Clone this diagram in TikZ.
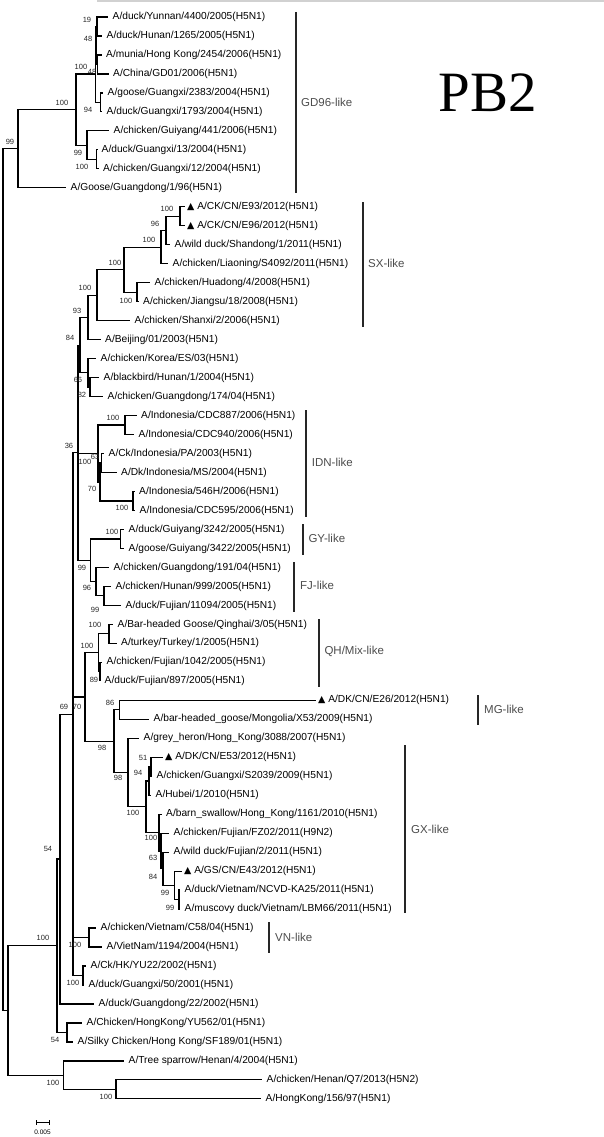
\documentclass[tikz,border=0pt]{standalone}
\usepackage{fontspec}
\setmainfont{Liberation Sans}
\newfontfamily\titlefont{Liberation Serif}
\newfontfamily\symbfont{DejaVu Sans}
\newcommand{\tri}{{\symbfont\fontsize{9.5}{10}\selectfont ▲}}

\begin{document}
\begin{tikzpicture}[x=1pt, y=-1pt,
    every edge/.style={draw, line width=1.2pt, to path={|- (\tikztotarget)}},
    leaf/.style={anchor=west, inner xsep=4.5pt, inner ysep=1pt, font=\fontsize{10.2}{12}\selectfont},
    tleaf/.style={leaf, inner xsep=2pt},
    bs/.style={inner sep=0pt, font=\fontsize{7.5}{9}\selectfont, text=black!85},
    clade/.style={anchor=west, inner sep=0pt, font=\fontsize{11.5}{13}\selectfont, text=black!70},
    bracket/.style={line width=1.7pt, black!85}]
        \useasboundingbox (0,0) rectangle (604,1137);

        % leaves
        \node[leaf] (l1) at (108,17.00) {A/duck/Yunnan/4400/2005(H5N1)};
        \node[leaf] (l2) at (102,35.98) {A/duck/Hunan/1265/2005(H5N1)};
        \node[leaf] (l3) at (101.5,54.96) {A/munia/Hong Kong/2454/2006(H5N1)};
        \node[leaf] (l4) at (108.5,73.94) {A/China/GD01/2006(H5N1)};
        \node[leaf] (l5) at (103,92.92) {A/goose/Guangxi/2383/2004(H5N1)};
        \node[leaf] (l6) at (102,111.90) {A/duck/Guangxi/1793/2004(H5N1)};
        \node[leaf] (l7) at (109,130.88) {A/chicken/Guiyang/441/2006(H5N1)};
        \node[leaf] (l8) at (97,149.86) {A/duck/Guangxi/13/2004(H5N1)};
        \node[leaf] (l9) at (98.5,168.84) {A/chicken/Guangxi/12/2004(H5N1)};
        \node[leaf] (l10) at (66,187.82) {A/Goose/Guangdong/1/96(H5N1)};
        \node[tleaf] (l11) at (185,206.80) {\tri\ A/CK/CN/E93/2012(H5N1)};
        \node[tleaf] (l12) at (185,225.78) {\tri\ A/CK/CN/E96/2012(H5N1)};
        \node[leaf] (l13) at (170,244.76) {A/wild duck/Shandong/1/2011(H5N1)};
        \node[leaf] (l14) at (168,263.74) {A/chicken/Liaoning/S4092/2011(H5N1)};
        \node[leaf] (l15) at (150,282.72) {A/chicken/Huadong/4/2008(H5N1)};
        \node[leaf] (l16) at (138.5,301.70) {A/chicken/Jiangsu/18/2008(H5N1)};
        \node[leaf] (l17) at (130,320.68) {A/chicken/Shanxi/2/2006(H5N1)};
        \node[leaf] (l18) at (100.5,339.66) {A/Beijing/01/2003(H5N1)};
        \node[leaf] (l19) at (96,358.64) {A/chicken/Korea/ES/03(H5N1)};
        \node[leaf] (l20) at (99,377.62) {A/blackbird/Hunan/1/2004(H5N1)};
        \node[leaf] (l21) at (103,396.60) {A/chicken/Guangdong/174/04(H5N1)};
        \node[leaf] (l22) at (136.5,415.58) {A/Indonesia/CDC887/2006(H5N1)};
        \node[leaf] (l23) at (134,434.56) {A/Indonesia/CDC940/2006(H5N1)};
        \node[leaf] (l24) at (104,453.54) {A/Ck/Indonesia/PA/2003(H5N1)};
        \node[leaf] (l25) at (116.5,472.52) {A/Dk/Indonesia/MS/2004(H5N1)};
        \node[leaf] (l26) at (134.5,491.50) {A/Indonesia/546H/2006(H5N1)};
        \node[leaf] (l27) at (135,510.48) {A/Indonesia/CDC595/2006(H5N1)};
        \node[leaf] (l28) at (124,529.46) {A/duck/Guiyang/3242/2005(H5N1)};
        \node[leaf] (l29) at (124,548.44) {A/goose/Guiyang/3422/2005(H5N1)};
        \node[leaf] (l30) at (109,567.42) {A/chicken/Guangdong/191/04(H5N1)};
        \node[leaf] (l31) at (111,586.40) {A/chicken/Hunan/999/2005(H5N1)};
        \node[leaf] (l32) at (121,605.38) {A/duck/Fujian/11094/2005(H5N1)};
        \node[leaf] (l33) at (113,624.36) {A/Bar-headed Goose/Qinghai/3/05(H5N1)};
        \node[leaf] (l34) at (116.5,643.34) {A/turkey/Turkey/1/2005(H5N1)};
        \node[leaf] (l35) at (102,662.32) {A/chicken/Fujian/1042/2005(H5N1)};
        \node[leaf] (l36) at (100,681.30) {A/duck/Fujian/897/2005(H5N1)};
        \node[tleaf] (l37) at (316,700.28) {\tri\ A/DK/CN/E26/2012(H5N1)};
        \node[leaf] (l38) at (149,719.26) {A/bar-headed\_goose/Mongolia/X53/2009(H5N1)};
        \node[leaf] (l39) at (139,738.24) {A/grey\_heron/Hong\_Kong/3088/2007(H5N1)};
        \node[tleaf] (l40) at (163,757.22) {\tri\ A/DK/CN/E53/2012(H5N1)};
        \node[leaf] (l41) at (152,776.20) {A/chicken/Guangxi/S2039/2009(H5N1)};
        \node[leaf] (l42) at (151,795.18) {A/Hubei/1/2010(H5N1)};
        \node[leaf] (l43) at (161.5,814.16) {A/barn\_swallow/Hong\_Kong/1161/2010(H5N1)};
        \node[leaf] (l44) at (169,833.14) {A/chicken/Fujian/FZ02/2011(H9N2)};
        \node[leaf] (l45) at (169,852.12) {A/wild duck/Fujian/2/2011(H5N1)};
        \node[tleaf] (l46) at (182,871.10) {\tri\ A/GS/CN/E43/2012(H5N1)};
        \node[leaf] (l47) at (180,890.08) {A/duck/Vietnam/NCVD-KA25/2011(H5N1)};
        \node[leaf] (l48) at (180,909.06) {A/muscovy duck/Vietnam/LBM66/2011(H5N1)};
        \node[leaf] (l49) at (96,928.04) {A/chicken/Vietnam/C58/04(H5N1)};
        \node[leaf] (l50) at (102,947.02) {A/VietNam/1194/2004(H5N1)};
        \node[leaf] (l51) at (86,966.00) {A/Ck/HK/YU22/2002(H5N1)};
        \node[leaf] (l52) at (84,984.98) {A/duck/Guangxi/50/2001(H5N1)};
        \node[leaf] (l53) at (94,1003.96) {A/duck/Guangdong/22/2002(H5N1)};
        \node[leaf] (l54) at (82,1022.94) {A/Chicken/HongKong/YU562/01(H5N1)};
        \node[leaf] (l55) at (73,1041.92) {A/Silky Chicken/Hong Kong/SF189/01(H5N1)};
        \node[leaf] (l56) at (124,1060.90) {A/Tree sparrow/Henan/4/2004(H5N1)};
        \node[leaf] (l57) at (262,1079.88) {A/chicken/Henan/Q7/2013(H5N2)};
        \node[leaf] (l58) at (261,1098.86) {A/HongKong/156/97(H5N1)};

        % inner nodes
        \coordinate (n19) at (97,26.49);
        \coordinate (n48b) at (97.5,64.45);
        \coordinate (n48a) at (96,45.47);
        \coordinate (n94) at (100.5,102.41);
        \coordinate (n100a) at (95.5,73.94);
        \coordinate (n100b) at (96.5,159.35);
        \coordinate (n99a) at (87,145.12);
        \coordinate (n100c) at (76,109.53);
        \coordinate (ngd) at (18,148.68);
        \coordinate (nE) at (180,216.29);
        \coordinate (nD) at (166,230.53);
        \coordinate (nB) at (161,247.13);
        \coordinate (nC) at (137,292.21);
        \coordinate (nA) at (124,269.67);
        \coordinate (nS) at (97,295.18);
        \coordinate (n93) at (88,317.42);
        \coordinate (n82) at (90,387.11);
        \coordinate (n66) at (88,372.88);
        \coordinate (n84) at (80,345.15);
        \coordinate (ni1) at (125,425.07);
        \coordinate (n63i) at (101.5,463.03);
        \coordinate (ni2) at (133,500.99);
        \coordinate (n70i) at (100,482.01);
        \coordinate (nI) at (98,453.54);
        \coordinate (nGY) at (120.7,538.95);
        \coordinate (n99f) at (104,595.89);
        \coordinate (n96) at (96,581.66);
        \coordinate (n99g) at (90.7,560.30);
        \coordinate (n36) at (78,452.73);
        \coordinate (nQ1) at (109,633.85);
        \coordinate (n89) at (100,671.81);
        \coordinate (nQ) at (98.5,652.83);
        \coordinate (n86) at (119.3,709.77);
        \coordinate (n51) at (151,766.71);
        \coordinate (n94g) at (149,780.95);
        \coordinate (n99b) at (179,899.57);
        \coordinate (n99c) at (174.3,885.34);
        \coordinate (n84g) at (163,868.73);
        \coordinate (n63g) at (161,850.94);
        \coordinate (n100g2) at (159,832.55);
        \coordinate (n100g) at (146,806.75);
        \coordinate (n98g) at (128,772.50);
        \coordinate (n98m) at (114,741.14);
        \coordinate (n70) at (85,696.99);
        \coordinate (nVN) at (89,937.53);
        \coordinate (nCk) at (83,975.49);
        \coordinate (n69) at (73,714.11);
        \coordinate (n54b) at (60,859.04);
        \coordinate (n54a) at (67,1032.43);
        \coordinate (n100) at (57,945.74);
        \coordinate (nH1) at (116,1089.37);
        \coordinate (nH) at (63.3,1075.14);
        \coordinate (nX) at (8,1010.44);
        \coordinate (root) at (3,579.56);

        % branches
        \path (n19) edge (l1.west) edge (l2.west)
              (n48b) edge (l3.west) edge (l4.west)
              (n48a) edge (n19) edge (n48b)
              (n94) edge (l5.west) edge (l6.west)
              (n100a) edge (n48a) edge (n94)
              (n100b) edge (l8.west) edge (l9.west)
              (n99a) edge (l7.west) edge (n100b)
              (n100c) edge (n100a) edge (n99a)
              (ngd) edge (n100c) edge (l10.west)
              (nE) edge (l11.west) edge (l12.west)
              (nD) edge (nE) edge (l13.west)
              (nB) edge (nD) edge (l14.west)
              (nC) edge (l15.west) edge (l16.west)
              (nA) edge (nB) edge (nC)
              (nS) edge (nA) edge (l17.west)
              (n93) edge (nS) edge (l18.west)
              (n82) edge (l20.west) edge (l21.west)
              (n66) edge (l19.west) edge (n82)
              (n84) edge (n93) edge (n66)
              (ni1) edge (l22.west) edge (l23.west)
              (n63i) edge (l24.west) edge (l25.west)
              (ni2) edge (l26.west) edge (l27.west)
              (n70i) edge (n63i) edge (ni2)
              (nI) edge (ni1) edge (n70i)
              (nGY) edge (l28.west) edge (l29.west)
              (n99f) edge (l31.west) edge (l32.west)
              (n96) edge (l30.west) edge (n99f)
              (n99g) edge (nGY) edge (n96)
              (n36) edge (n84) edge (nI) edge (n99g)
              (nQ1) edge (l33.west) edge (l34.west)
              (n89) edge (l35.west) edge (l36.west)
              (nQ) edge (nQ1) edge (n89)
              (n86) edge (l37.west) edge (l38.west)
              (n51) edge (l40.west) edge (l41.west)
              (n94g) edge (n51) edge (l42.west)
              (n99b) edge (l47.west) edge (l48.west)
              (n99c) edge (l46.west) edge (n99b)
              (n84g) edge (l45.west) edge (n99c)
              (n63g) edge (l44.west) edge (n84g)
              (n100g2) edge (l43.west) edge (n63g)
              (n100g) edge (n94g) edge (n100g2)
              (n98g) edge (l39.west) edge (n100g)
              (n98m) edge (n86) edge (n98g)
              (n70) edge (nQ) edge (n98m)
              (nVN) edge (l49.west) edge (l50.west)
              (nCk) edge (l51.west) edge (l52.west)
              (n69) edge (n36) edge (n70) edge (nVN) edge (nCk)
              (n54b) edge (n69) edge (l53.west)
              (n54a) edge (l54.west) edge (l55.west)
              (n100) edge (n54b) edge (n54a)
              (nH1) edge (l57.west) edge (l58.west)
              (nH) edge (l56.west) edge (nH1)
              (nX) edge (n100) edge (nH)
              (root) edge (ngd) edge (nX);

        % bootstrap values
        \node[bs] (b1) at (87,20) {19};
        \node[bs] (b2) at (88,39) {48};
        \node[bs] (b3) at (81,67) {100};
        \node[bs] (b4) at (92,72) {48};
        \node[bs] (b5) at (88,110) {94};
        \node[bs] (b6) at (62,103) {100};
        \node[bs] (b7) at (78,153) {99};
        \node[bs] (b8) at (82,167) {100};
        \node[bs] (b9) at (10,142) {99};
        \node[bs] (b10) at (167,209) {100};
        \node[bs] (b11) at (155,224) {96};
        \node[bs] (b12) at (149,240) {100};
        \node[bs] (b13) at (115,263) {100};
        \node[bs] (b14) at (126,301) {100};
        \node[bs] (b15) at (85,288) {100};
        \node[bs] (b16) at (77,311) {93};
        \node[bs] (b17) at (70,338) {84};
        \node[bs] (b18) at (78,380) {66};
        \node[bs] (b19) at (82,395) {82};
        \node[bs] (b20) at (69,446) {36};
        \node[bs] (b21) at (113,418) {100};
        \node[bs] (b22) at (95,457) {63};
        \node[bs] (b23) at (85,462) {100};
        \node[bs] (b24) at (92,489) {70};
        \node[bs] (b25) at (122,508) {100};
        \node[bs] (b26) at (112,532) {100};
        \node[bs] (b27) at (82,568) {99};
        \node[bs] (b28) at (87,588) {96};
        \node[bs] (b29) at (95,610) {99};
        \node[bs] (b30) at (95,625) {100};
        \node[bs] (b31) at (87,646) {100};
        \node[bs] (b32) at (94,680) {89};
        \node[bs] (b33) at (64,707) {69};
        \node[bs] (b34) at (77,707) {70};
        \node[bs] (b35) at (110,703) {86};
        \node[bs] (b36) at (102,748) {98};
        \node[bs] (b37) at (118,778) {98};
        \node[bs] (b38) at (143,758) {51};
        \node[bs] (b39) at (138,773) {94};
        \node[bs] (b40) at (133,813) {100};
        \node[bs] (b41) at (151,838) {100};
        \node[bs] (b42) at (153,858) {63};
        \node[bs] (b43) at (153,877) {84};
        \node[bs] (b44) at (165,893) {99};
        \node[bs] (b45) at (170,908) {99};
        \node[bs] (b46) at (48,849) {54};
        \node[bs] (b47) at (43,938) {100};
        \node[bs] (b48) at (75,945) {100};
        \node[bs] (b49) at (73,983) {100};
        \node[bs] (b50) at (55,1040) {54};
        \node[bs] (b51) at (53,1083) {100};
        \node[bs] (b52) at (106,1097) {100};

        % clade brackets
        \coordinate (gdT) at (295.7,12);   \coordinate (gdB) at (295.7,193);
        \coordinate (sxT) at (362.7,202);  \coordinate (sxB) at (362.7,327);
        \coordinate (idT) at (306,410);    \coordinate (idB) at (306,517);
        \coordinate (gyT) at (302.7,524);  \coordinate (gyB) at (302.7,555);
        \coordinate (fjT) at (294,562);    \coordinate (fjB) at (294,612);
        \coordinate (qhT) at (319,619);    \coordinate (qhB) at (319,687);
        \coordinate (mgT) at (478.3,695);  \coordinate (mgB) at (478.3,725);
        \coordinate (gxT) at (405,745);    \coordinate (gxB) at (405,913);
        \coordinate (vnT) at (269,922);    \coordinate (vnB) at (269,953);
        \draw[bracket] (gdT) -- (gdB);
        \draw[bracket] (sxT) -- (sxB);
        \draw[bracket] (idT) -- (idB);
        \draw[bracket] (gyT) -- (gyB);
        \draw[bracket] (fjT) -- (fjB);
        \draw[bracket] (qhT) -- (qhB);
        \draw[bracket] (mgT) -- (mgB);
        \draw[bracket] (gxT) -- (gxB);
        \draw[bracket] (vnT) -- (vnB);
        \node[clade] (gd) at (301,102) {GD96-like};
        \node[clade] (sx) at (368,263) {SX-like};
        \node[clade] (idn) at (311.7,462.7) {IDN-like};
        \node[clade] (gy) at (308.3,538) {GY-like};
        \node[clade] (fj) at (300,585.7) {FJ-like};
        \node[clade] (qh) at (324.3,651.7) {QH/Mix-like};
        \node[clade] (mg) at (484,709.3) {MG-like};
        \node[clade] (gx) at (411,829) {GX-like};
        \node[clade] (vn) at (275,937.7) {VN-like};

        % title, top rule, scale bar
        \node[font=\titlefont\fontsize{57}{60}\selectfont] (title) at (488,93) {PB2};
        \coordinate (ruleL) at (97,1.3);
        \coordinate (ruleR) at (604,1.3);
        \draw[black!18, line width=2.4pt] (ruleL) -- (ruleR);
        \coordinate (sbL) at (36,1122);
        \coordinate (sbR) at (49,1122);
        \draw[line width=0.7pt] (sbL) -- (sbR);
        \draw[line width=0.7pt] ([yshift=-2.5pt]sbL) -- ([yshift=2.5pt]sbL);
        \draw[line width=0.7pt] ([yshift=-2.5pt]sbR) -- ([yshift=2.5pt]sbR);
        \node[font=\fontsize{6.5}{8}\selectfont, inner sep=0pt] (sb) at (42.5,1132) {0.005};
\end{tikzpicture}
\end{document}
